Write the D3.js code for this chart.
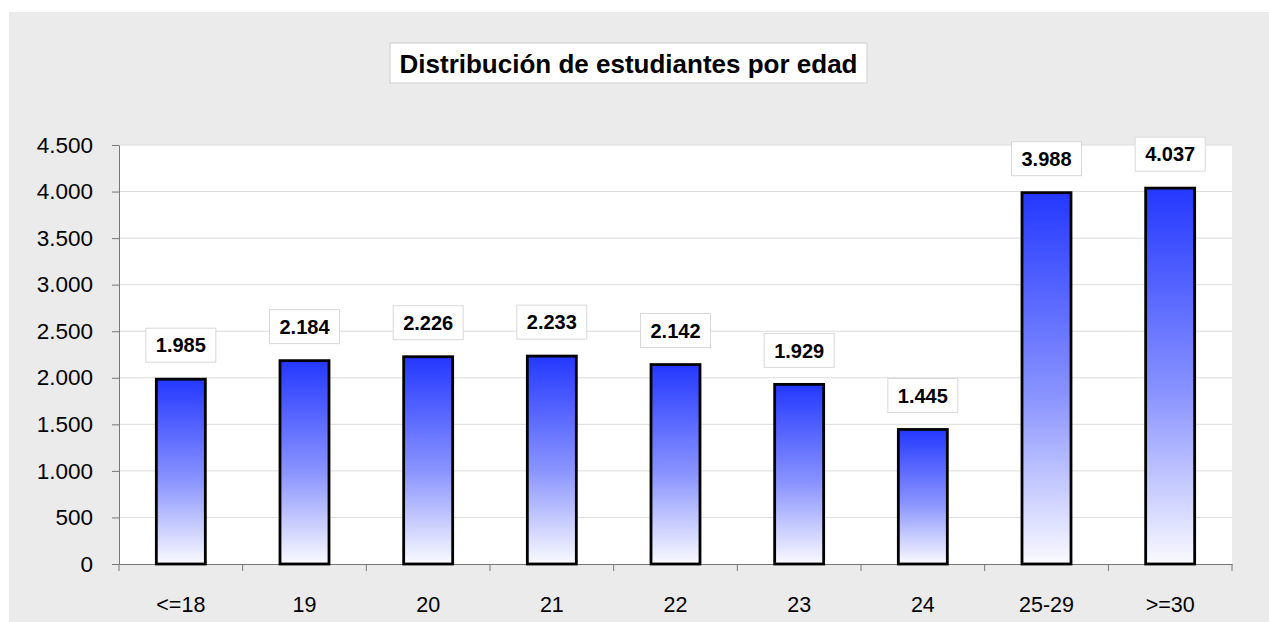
<!DOCTYPE html>
<html><head><meta charset="utf-8">
<script src="https://cdn.jsdelivr.net/npm/d3@7"></script>
<style>body{margin:0;background:#fff}svg{display:block}</style>
</head><body>
<svg id="c" width="1269" height="622"></svg>
<script>
const categories = ["<=18","19","20","21","22","23","24","25-29",">=30"];
const values = [1985,2184,2226,2233,2142,1929,1445,3988,4037];
const yTicks = [0,500,1000,1500,2000,2500,3000,3500,4000,4500];
const title = "Distribución de estudiantes por edad";

const svg = d3.select("#c");
const font = "'Liberation Sans', Arial, sans-serif";
const fmt = v => d3.format(",")(v).replace(/,/g, ".");

svg.append("rect").attr("x",9).attr("y",12).attr("width",1260).attr("height",610).attr("fill","#ebebeb");

const L=119, R=1232, T=145, B=564;
svg.append("rect").attr("x",L).attr("y",T).attr("width",R-L).attr("height",B-T).attr("fill","#fff");

const x = d3.scaleBand().domain(categories).range([L,R]).paddingInner(0).paddingOuter(0);
const y = d3.scaleLinear().domain([0,4500]).range([B,T]);

const defs = svg.append("defs");
const g = defs.append("linearGradient").attr("id","bg").attr("x1",0).attr("y1",0).attr("x2",0).attr("y2",1);
g.append("stop").attr("offset","0%").attr("stop-color","#2438ff");
g.append("stop").attr("offset","55%").attr("stop-color","#8a94ff");
g.append("stop").attr("offset","100%").attr("stop-color","#fafaff");

// gridlines
svg.append("g").selectAll("line").data(yTicks.filter(d=>d>0)).join("line")
  .attr("x1",L).attr("x2",R).attr("y1",d=>y(d)).attr("y2",d=>y(d))
  .attr("stroke","#dcdcdc").attr("stroke-width",1);

// y axis
const ya = svg.append("g").attr("transform",`translate(${L},0)`)
  .call(d3.axisLeft(y).tickValues(yTicks).tickFormat(fmt).tickSize(7).tickSizeOuter(0));
ya.select(".domain").attr("stroke","#777");
ya.selectAll(".tick line").attr("stroke","#777");
ya.selectAll(".tick text").attr("font-family",font).attr("font-size",22.5).attr("fill","#000").attr("x",-26);

// x axis
const xa = svg.append("g").attr("transform",`translate(0,${B})`)
  .call(d3.axisBottom(x).tickSize(0).tickSizeOuter(0));
xa.select(".domain").attr("stroke","#777");
xa.selectAll(".tick text").attr("font-family",font).attr("font-size",21.5).attr("fill","#000").attr("dy",0).attr("y",48);
const bounds = categories.map(c=>x(c)).concat([R]);
svg.append("g").selectAll("line").data(bounds).join("line")
  .attr("x1",d=>d).attr("x2",d=>d).attr("y1",B).attr("y2",B+7).attr("stroke","#777");

// bars
const bw = 49;
svg.append("g").selectAll("rect").data(values).join("rect")
  .attr("x",(d,i)=>x(categories[i])+x.bandwidth()/2-bw/2)
  .attr("y",d=>y(d)).attr("width",bw).attr("height",d=>B-y(d))
  .attr("fill","url(#bg)").attr("stroke","#000").attr("stroke-width",2.8);

// labels
const lg = svg.append("g").selectAll("g").data(values).join("g")
  .attr("transform",(d,i)=>`translate(${x(categories[i])+x.bandwidth()/2},${y(d)-34})`);
lg.append("rect").attr("x",-35).attr("y",-17).attr("width",70).attr("height",34)
  .attr("fill","#fff").attr("stroke","#d8d8d8");
lg.append("text").attr("text-anchor","middle").attr("dy","0.36em")
  .attr("font-family",font).attr("font-weight","bold").attr("font-size",20).text(fmt);

// title
const tg = svg.append("g");
tg.append("rect").attr("x",390).attr("y",43).attr("width",477).attr("height",40).attr("fill","#fff").attr("stroke","#d0d0d0");
tg.append("text").attr("x",628.5).attr("y",64).attr("dy","0.36em").attr("text-anchor","middle")
  .attr("font-family",font).attr("font-weight","bold").attr("font-size",26).text(title);
</script>
</body></html>
